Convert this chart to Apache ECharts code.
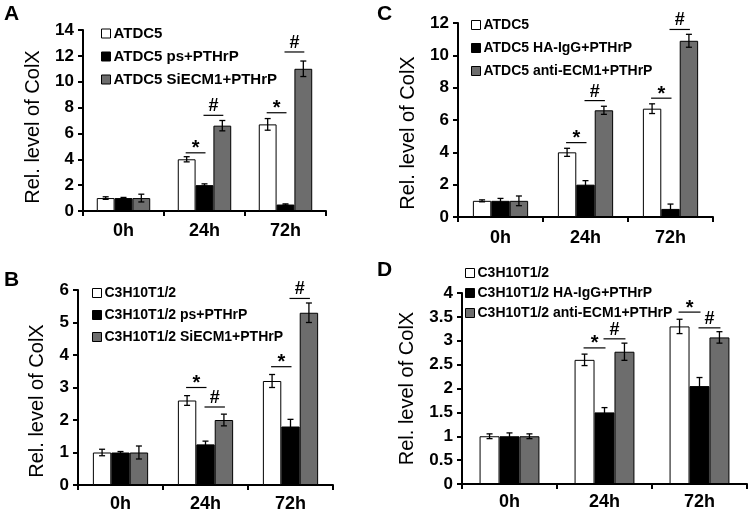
<!DOCTYPE html>
<html><head><meta charset="utf-8">
<script src="https://cdn.jsdelivr.net/npm/echarts@6/dist/echarts.min.js"></script>
<style>html,body{margin:0;padding:0;background:#fff}#c{width:750px;height:515px}</style>
</head><body><div id="c"></div>
<script>
const categories = ['0h', '24h', '72h'];
const colors = ['#ffffff', '#000000', '#6d6d6d'];
const yName = 'Rel. level of ColX';

// Panel A
const aNames = ['ATDC5', 'ATDC5 ps+PTHrP', 'ATDC5 SiECM1+PTHrP'];
const aWhite = [1.0, 4.0, 6.7];
const aWhiteErr = [0.1, 0.2, 0.45];
const aBlack = [1.0, 2.0, 0.5];
const aBlackErr = [0.05, 0.1, 0.05];
const aGray = [1.0, 6.6, 11.0];
const aGrayErr = [0.3, 0.4, 0.6];
const aSig = [[1, 4.5, 0], [1, 7.4, 1], [2, 7.6, 0], [2, 12.3, 1]];
const aSigMark = ['*', '#', '*', '#'];
const aYMax = 14, aYStep = 2;

// Panel B
const bNames = ['C3H10T1/2', 'C3H10T1/2 ps+PTHrP', 'C3H10T1/2 SiECM1+PTHrP'];
const bWhite = [1.0, 2.6, 3.2];
const bWhiteErr = [0.1, 0.15, 0.2];
const bBlack = [1.0, 1.25, 1.8];
const bBlackErr = [0.03, 0.1, 0.22];
const bGray = [1.0, 2.0, 5.3];
const bGrayErr = [0.2, 0.18, 0.3];
const bSig = [[1, 3.0, 0], [1, 2.4, 1], [2, 3.64, 0], [2, 5.74, 1]];
const bSigMark = ['*', '#', '*', '#'];
const bYMax = 6, bYStep = 1;

// Panel C
const cNames = ['ATDC5', 'ATDC5 HA-IgG+PTHrP', 'ATDC5 anti-ECM1+PTHrP'];
const cWhite = [1.0, 4.0, 6.7];
const cWhiteErr = [0.06, 0.25, 0.3];
const cBlack = [1.0, 2.0, 0.5];
const cBlackErr = [0.15, 0.25, 0.3];
const cGray = [1.0, 6.6, 10.9];
const cGrayErr = [0.3, 0.25, 0.4];
const cSig = [[1, 4.6, 0], [1, 7.2, 1], [2, 7.35, 0], [2, 11.6, 1]];
const cSigMark = ['*', '#', '*', '#'];
const cYMax = 12, cYStep = 2;

// Panel D
const dNames = ['C3H10T1/2', 'C3H10T1/2 HA-IgG+PTHrP', 'C3H10T1/2 anti-ECM1+PTHrP'];
const dWhite = [1.0, 2.6, 3.3];
const dWhiteErr = [0.05, 0.12, 0.15];
const dBlack = [1.0, 1.5, 2.05];
const dBlackErr = [0.07, 0.1, 0.18];
const dGray = [1.0, 2.77, 3.07];
const dGrayErr = [0.05, 0.18, 0.12];
const dSig = [[1, 2.85, 0], [1, 3.04, 1], [2, 3.6, 0], [2, 3.27, 1]];
const dSigMark = ['*', '#', '*', '#'];
const dYMax = 4, dYStep = 0.5;

const FONT = '"Liberation Sans", Arial, sans-serif';

const panels = [
  {letter: 'A', names: aNames, vals: [aWhite, aBlack, aGray], errs: [aWhiteErr, aBlackErr, aGrayErr], sig: aSig, sigMark: aSigMark, yMax: aYMax, yStep: aYStep,
   grid: {left: 83, top: 30, width: 243, height: 181}, gap: 0.34, nameGap: 40, nameShift: 13, labelMargin: 11,
   legend: {left: 101, top: 26, itemGap: 8, fontSize: 15}, letterPos: [4, 4]},
  {letter: 'B', names: bNames, vals: [bWhite, bBlack, bGray], errs: [bWhiteErr, bBlackErr, bGrayErr], sig: bSig, sigMark: bSigMark, yMax: bYMax, yStep: bYStep,
   grid: {left: 78, top: 290, width: 255, height: 195}, gap: 0.35, nameGap: 31, nameShift: 27, labelMargin: 10,
   legend: {left: 92, top: 286, itemGap: 8, fontSize: 14}, letterPos: [4, 270]},
  {letter: 'C', names: cNames, vals: [cWhite, cBlack, cGray], errs: [cWhiteErr, cBlackErr, cGrayErr], sig: cSig, sigMark: cSigMark, yMax: cYMax, yStep: cYStep,
   grid: {left: 458, top: 23, width: 255, height: 194}, gap: 0.35, nameGap: 40, nameShift: 26, labelMargin: 12,
   legend: {left: 471, top: 18, itemGap: 9, fontSize: 14}, letterPos: [377, 4]},
  {letter: 'D', names: dNames, vals: [dWhite, dBlack, dGray], errs: [dWhiteErr, dBlackErr, dGrayErr], sig: dSig, sigMark: dSigMark, yMax: dYMax, yStep: dYStep,
   grid: {left: 462, top: 293, width: 285, height: 191}, gap: 0.37, nameGap: 45, nameShift: 0, labelMargin: 9,
   legend: {left: 465, top: 266, itemGap: 6, fontSize: 14}, letterPos: [377, 260]}
];

const option = {
  animation: false,
  backgroundColor: '#fff',
  grid: [], xAxis: [], yAxis: [], series: [], legend: [], graphic: []
};

panels.forEach((p, i) => {
  option.grid.push(Object.assign({containLabel: false}, p.grid));
  option.xAxis.push({
    type: 'category', gridIndex: i, data: categories,
    axisLine: {lineStyle: {color: '#000', width: 2}},
    axisTick: {show: true, inside: false, length: 5, lineStyle: {color: '#000', width: 2}},
    axisLabel: {color: '#000', fontFamily: FONT, fontWeight: 'bold', fontSize: 18, margin: p.labelMargin},
    splitLine: {show: false}
  });
  option.yAxis.push({
    type: 'value', gridIndex: i, min: 0, max: p.yMax, interval: p.yStep,
    name: yName, nameLocation: 'middle', nameGap: p.nameGap,
    nameTextStyle: {color: '#000', fontFamily: FONT, fontSize: 20, fontWeight: 'normal', padding: [0, p.nameShift, 0, 0]},
    axisLine: {show: true, lineStyle: {color: '#000', width: 2}},
    axisTick: {show: true, inside: false, length: 5, lineStyle: {color: '#000', width: 2}},
    axisLabel: {color: '#000', fontFamily: FONT, fontWeight: 'bold', fontSize: 17, margin: 9},
    splitLine: {show: false}
  });
  p.names.forEach((nm, s) => {
    option.series.push({
      type: 'bar', name: nm, xAxisIndex: i, yAxisIndex: i, data: p.vals[s],
      barGap: '0%', barCategoryGap: (p.gap * 100) + '%',
      itemStyle: {color: colors[s], borderColor: '#000', borderWidth: 1},
      emphasis: {disabled: true}, z: 2
    });
  });
  // error bars
  const errData = [];
  p.vals.forEach((arr, s) => arr.forEach((v, c) => errData.push([c, v, p.errs[s][c], s])));
  const gap = p.gap;
  option.series.push({
    type: 'custom', xAxisIndex: i, yAxisIndex: i, data: errData, z: 5, silent: true,
    renderItem: function (params, api) {
      const c = api.value(0), v = api.value(1), e = api.value(2), s = api.value(3);
      const band = api.size([1, 0])[0];
      const bw = band * (1 - gap) / 3;
      const base = api.coord([c, v]);
      const x = base[0] + (s - 1) * bw;
      const yt = api.coord([c, v + e])[1];
      const yb = api.coord([c, v - e])[1];
      const cap = 3;
      const st = {stroke: '#000', lineWidth: 1.3};
      return {type: 'group', children: [
        {type: 'line', shape: {x1: x, y1: yt, x2: x, y2: yb}, style: st},
        {type: 'line', shape: {x1: x - cap, y1: yt, x2: x + cap, y2: yt}, style: st},
        {type: 'line', shape: {x1: x - cap, y1: yb, x2: x + cap, y2: yb}, style: st}
      ]};
    }
  });
  // significance markers
  const marks = p.sigMark;
  option.series.push({
    type: 'custom', xAxisIndex: i, yAxisIndex: i, data: p.sig, z: 6, silent: true,
    renderItem: function (params, api) {
      const c = api.value(0), y = api.value(1), left = api.value(2);
      const band = api.size([1, 0])[0];
      const bw = band * (1 - gap) / 3;
      const pt = api.coord([c, y]);
      const x1 = pt[0] + (left - 1) * bw - 1, x2 = pt[0] + left * bw + 1;
      const m = marks[params.dataIndex];
      return {type: 'group', children: [
        {type: 'line', shape: {x1: x1, y1: pt[1], x2: x2, y2: pt[1]}, style: {stroke: '#000', lineWidth: 1.2}},
        {type: 'text', style: {text: m, x: (x1 + x2) / 2, y: pt[1] + (m === '*' ? 6 : 0), align: 'center', verticalAlign: 'bottom',
          font: (m === '*' ? 'bold 20px ' : 'bold 18px ') + FONT, fill: '#000'}}
      ]};
    }
  });
  option.legend.push({
    orient: 'vertical', left: p.legend.left, top: p.legend.top, padding: 0,
    itemGap: p.legend.itemGap, itemWidth: 9, itemHeight: 9, icon: 'rect',
    data: p.names, selectedMode: false,
    textStyle: {color: '#000', fontFamily: FONT, fontWeight: 'bold', fontSize: p.legend.fontSize, lineHeight: 14, padding: [0, 0, 0, -2]},
    itemStyle: {borderColor: '#000', borderWidth: 1}
  });
  option.graphic.push({
    type: 'text', left: p.letterPos[0], top: p.letterPos[1],
    style: {text: p.letter, font: 'bold 21px ' + FONT, fill: '#000'}
  });
});

const chart = echarts.init(document.getElementById('c'), null, {renderer: 'canvas'});
chart.setOption(option);
</script></body></html>
